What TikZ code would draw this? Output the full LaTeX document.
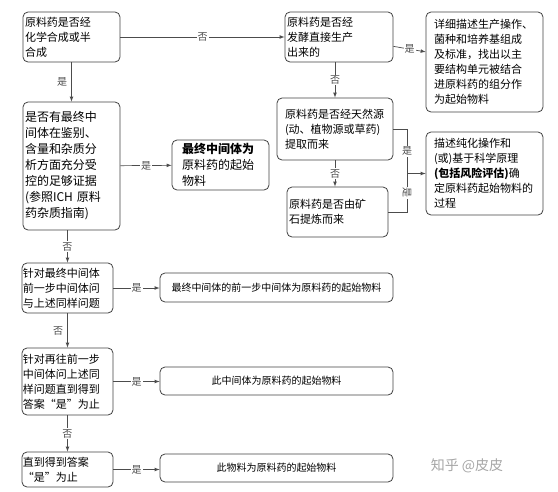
\documentclass[tikz,border=0pt]{standalone}
\usepackage{fontspec}
\setmainfont{Noto Sans CJK SC}
\usepackage{xcolor}
\usepackage{tikz}
\usetikzlibrary{arrows, positioning}

\tikzset{
  box/.style={draw=black!75, line width=0.8pt, rounded corners=5pt, align=left,
    inner ysep=2pt, inner xsep=2pt, font=\fontsize{11}{15}\selectfont},
  widebox/.style={box, align=center, font=\fontsize{10}{12}\selectfont},
  conn/.style={draw=black!70, line width=0.7pt},
  link/.style={conn, -latex},
  lbl/.style={fill=white, inner sep=1pt, text=black!70, font=\fontsize{10}{11}\selectfont}
}

\begin{document}
\begin{tikzpicture}[x=1pt, y=-1pt]
\useasboundingbox (0,0) rectangle (558,491);

% top row
\node[box, minimum width=97pt, minimum height=50pt, text width=93pt] (synth) at (71.5,37) {原料药是否经\\化学合成或半\\合成};
\node[box, minimum width=108pt, minimum height=50pt, text width=104pt] (ferm) at (339,37) {原料药是否经\\发酵直接生产\\出来的};
\node[box, minimum width=117pt, minimum height=100pt, inner xsep=8pt, text width=101pt] (culture) at (484.5,62) {详细描述生产操作、\\菌种和培养基组成\\及标准，找出以主\\要结构单元被结合\\进原料药的组分作\\为起始物料};

% natural source / ore
\node[box, minimum width=116pt, minimum height=62pt, inner xsep=8pt, text width=100pt] (nat) at (335,129) {原料药是否经天然源\\(动、植物源或草药)\\提取而来};
\node[box, minimum width=101pt, minimum height=50pt, text width=97pt] (ore) at (337.5,212) {原料药是否由矿\\石提炼而来};
\node[box, minimum width=117pt, minimum height=83pt, inner xsep=8pt, text width=101pt] (purif) at (484.5,173.5) {描述纯化操作和\\(或)基于科学原理\\\textbf{(包括风险评估)}确\\定原料药起始物料的\\过程};

% final intermediate
\node[box, minimum width=97pt, minimum height=128pt, text width=93pt, font=\fontsize{12}{16}\selectfont] (final) at (71.5,166) {是否有最终中\\间体在鉴别、\\含量和杂质分\\析方面充分受\\控的足够证据\\(参照ICH 原料\\药杂质指南)};
\node[box, minimum width=97pt, minimum height=50pt, inner xsep=10pt, text width=77pt, font=\fontsize{12}{16}\selectfont] (finalsm) at (220.5,165) {\textbf{最终中间体为}\\原料药的起始\\物料};

% going back step by step
\node[box, minimum width=91pt, minimum height=50pt, inner xsep=1pt, text width=89pt] (itm) at (67.5,288) {针对最终中间体\\前一步中间体问\\与上述同样问题};
\node[widebox, minimum width=233pt, minimum height=29pt] (itmsm) at (276.5,287.5) {最终中间体的前一步中间体为原料药的起始物料};
\node[box, minimum width=91pt, minimum height=67pt, inner xsep=1pt, text width=89pt] (prev) at (67.5,381.5) {针对再往前一步\\中间体问上述同\\样问题直到得到\\答案“是”为止};
\node[widebox, minimum width=233pt, minimum height=28pt] (prevsm) at (276.5,381) {此中间体为原料药的起始物料};
\node[box, minimum width=91pt, minimum height=35pt, inner xsep=1pt, text width=89pt] (last) at (67.5,469.5) {直到得到答案\\“是”为止};
\node[widebox, minimum width=233pt, minimum height=28pt] (lastsm) at (276.5,468) {此物料为原料药的起始物料};

% watermark
\node[text=black!35, font=\fontsize{14}{14}\selectfont] (mark) at (467,466) {知乎 @皮皮};

% connectors
\draw[link] (synth) -- node[lbl] {否} (ferm);
\draw[link] (ferm) -- node[lbl] {是} (culture);
\draw[link] (ferm.south -| nat.north) -- node[lbl] {否} (nat.north);
\draw[link] (nat.south) -- node[lbl] {否} (nat.south |- ore.north);
\coordinate (join) at (407,173.5);
\draw[conn] (nat.east) -| node[lbl, pos=0.75] {是} (join);
\draw[conn] (ore.east) -| node[lbl, pos=0.75, rotate=-90] {是} (join);
\draw[link] (join) -- (purif.west);

\draw[link] (synth) -- node[lbl, left=3pt, fill=none] {是} (final);
\draw[link] (final) -- node[lbl] {是} (finalsm);
\draw[link] (final.south -| itm.north) -- node[lbl] {否} (itm.north);
\draw[link] (itm.east) -- node[lbl] {是} (itmsm.west |- itm.east);
\draw[link] (itm) -- node[lbl, left=3pt, fill=none] {否} (prev);
\draw[link] (prev.east) -- node[lbl] {是} (prevsm.west |- prev.east);
\draw[link] (prev) -- node[lbl] {否} (last);
\draw[link] (last.east) -- node[lbl] {是} (lastsm.west |- last.east);

\end{tikzpicture}
\end{document}
